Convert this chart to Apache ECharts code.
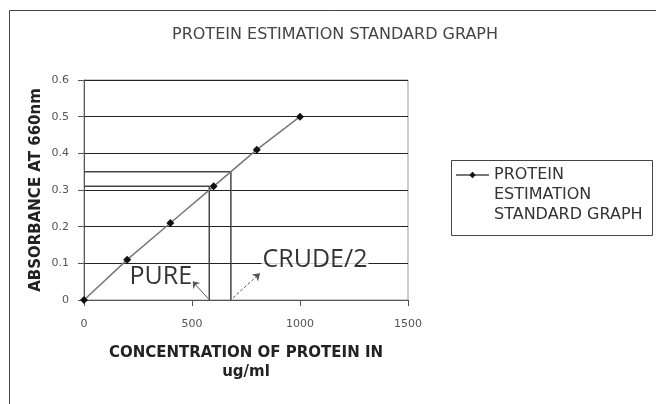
<!DOCTYPE html>
<html>
<head>
<meta charset="utf-8">
<script src="https://cdn.jsdelivr.net/npm/echarts@6/dist/echarts.min.js"></script>
<style>
  html, body { margin: 0; padding: 0; background: #fff; }
  #chart { width: 656px; height: 404px; }
</style>
</head>
<body>
<div id="chart"></div>
<script>
// standard curve readings
const concentration = [0, 200, 400, 600, 800, 1000]
const absorbance = [0, 0.11, 0.21, 0.31, 0.41, 0.5]

// read-off lines for the two samples
const pureLine = [[0, 0.31], [580, 0.31], [580, 0]]
const crudeLine = [[0, 0.35], [680, 0.35], [680, 0]]

// annotation arrows [from, to]
const pureArrow = [[575, 0.004], [500, 0.052]]
const crudeArrow = [[690, 0.006], [815, 0.073]]

// annotation texts
const noteNames = ['PURE', 'CRUDE/2']
const notePos = [[206, 0.063], [822, 0.11]]

const xTicks = [0, 1500, 500]   // min, max, step
const yTicks = [0, 0.6, 0.1]

const font = 'DejaVu Sans'

const chart = echarts.init(document.getElementById('chart'))

const option = {
  animation: false,
  backgroundColor: '#fff',
  title: {
    text: 'PROTEIN ESTIMATION STANDARD GRAPH',
    left: 167,
    top: 22,
    textStyle: { fontFamily: font, fontSize: 16, fontWeight: 'normal', color: '#444' }
  },
  legend: {
    data: ['PROTEIN ESTIMATION STANDARD GRAPH'],
    orient: 'vertical',
    left: 455,
    top: 125,
    padding: 0,
    itemWidth: 33,
    itemHeight: 8,
    itemGap: 0,
    // empty first line pushes the icon up to the first text line
    formatter: () => '{g| }\nPROTEIN\nESTIMATION\nSTANDARD GRAPH',
    textStyle: {
      fontFamily: font, fontSize: 16, lineHeight: 20, color: '#333',
      rich: { g: { lineHeight: 40, fontSize: 2 } }
    }
  },
  graphic: [
    {
      type: 'rect',
      shape: { x: 9.5, y: 10.5, width: 700, height: 420 },
      style: { fill: 'none', stroke: '#444', lineWidth: 1 },
      silent: true
    },
    {
      // legend frame
      type: 'rect',
      shape: { x: 451.5, y: 160.5, width: 201, height: 75 },
      style: { fill: 'none', stroke: '#444', lineWidth: 1 },
      silent: true
    }
  ],
  grid: {
    left: 84, right: 248, top: 80, bottom: 104,
    show: true, borderColor: '#999', borderWidth: 1
  },
  xAxis: {
    type: 'value',
    min: xTicks[0], max: xTicks[1], interval: xTicks[2],
    name: 'CONCENTRATION OF PROTEIN IN\nug/ml',
    nameLocation: 'middle',
    nameGap: 44,
    nameTextStyle: { fontFamily: font, fontSize: 15, fontWeight: 'bold', lineHeight: 19, color: '#222' },
    axisLine: { show: true, lineStyle: { color: '#555' } },
    axisTick: { show: true, length: 6, lineStyle: { color: '#555' } },
    axisLabel: { fontFamily: font, fontSize: 11, color: '#555', margin: 19, formatter: v => String(v) },
    splitLine: { show: false }
  },
  yAxis: {
    type: 'value',
    min: yTicks[0], max: yTicks[1], interval: yTicks[2],
    name: 'ABSORBANCE AT 660nm',
    nameLocation: 'middle',
    nameGap: 40,
    nameTextStyle: { fontFamily: font, fontSize: 15, fontWeight: 'bold', color: '#222' },
    axisLine: { show: true, lineStyle: { color: '#555' } },
    axisTick: { show: true, length: 6, lineStyle: { color: '#555' } },
    axisLabel: { fontFamily: font, fontSize: 11, color: '#555', margin: 15 },
    splitLine: { show: true, lineStyle: { color: '#222', width: 1 } }
  },
  series: [
    {
      name: 'PROTEIN ESTIMATION STANDARD GRAPH',
      type: 'line',
      data: concentration.map((c, i) => [c, absorbance[i]]),
      symbol: 'diamond',
      symbolSize: 8,
      lineStyle: { color: '#777', width: 1.5 },
      itemStyle: { color: '#111' },
      z: 5
    },
    {
      name: 'pure',
      type: 'line',
      data: pureLine,
      symbol: 'none',
      lineStyle: { color: '#444', width: 1.5 },
      markLine: {
        silent: true,
        symbol: ['none', 'arrow'],
        symbolSize: 7,
        label: { show: false },
        lineStyle: { color: '#555', width: 1, type: 'solid' },
        data: [[{ coord: pureArrow[0] }, { coord: pureArrow[1] }]]
      }
    },
    {
      name: 'crude',
      type: 'line',
      data: crudeLine,
      symbol: 'none',
      lineStyle: { color: '#444', width: 1.5 },
      markLine: {
        silent: true,
        symbol: ['none', 'arrow'],
        symbolSize: 7,
        label: { show: false },
        lineStyle: { color: '#555', width: 1, type: [3, 2] },
        data: [[{ coord: crudeArrow[0] }, { coord: crudeArrow[1] }]]
      }
    },
    {
      name: 'notes',
      type: 'scatter',
      symbolSize: 0,
      data: noteNames.map((n, i) => ({ name: n, value: notePos[i] })),
      label: {
        show: true,
        position: 'right',
        distance: 0,
        formatter: p => p.name,
        fontFamily: 'Open Sans',
        fontSize: 25,
        color: '#000',
        backgroundColor: '#fff',
        padding: [0, 1]
      },
      z: 6
    }
  ]
}

chart.setOption(option)
</script>
</body>
</html>
